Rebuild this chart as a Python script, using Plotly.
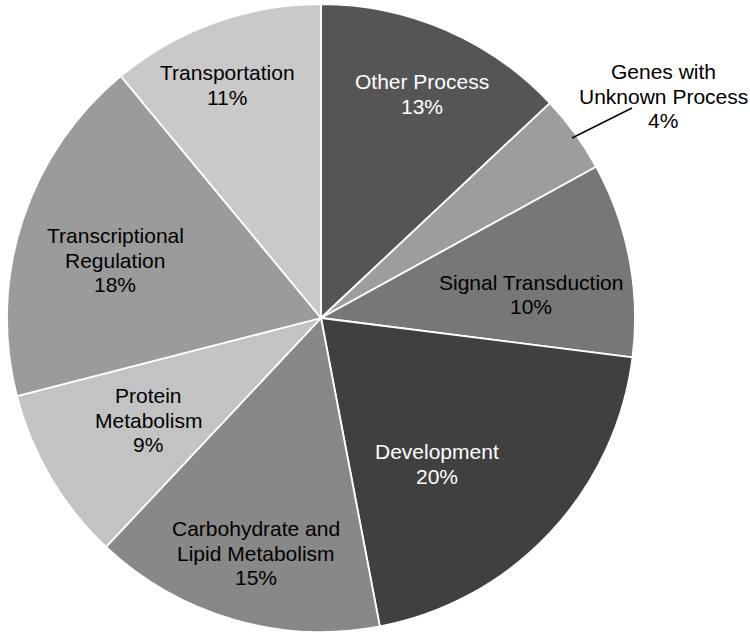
import plotly.graph_objects as go

categories = ["Other Process", "Genes with<br>Unknown Process", "Signal Transduction",
              "Development", "Carbohydrate and<br>Lipid Metabolism", "Protein<br>Metabolism",
              "Transcriptional<br>Regulation", "Transportation"]
values = [13, 4, 10, 20, 15, 9, 18, 11]
colors = ["#555555", "#9d9d9d", "#777777", "#404040", "#888888", "#c3c3c3", "#9b9b9b", "#c9c9c9"]
text_colors = ["white", "black", "black", "white", "black", "black", "black", "black"]

# label block centre positions in pixels (layout, not data)
label_px = [(422, 94), (663, 96), (531, 294.5), (437, 464), (256, 553), (148, 420), (115, 260), (227, 85)]
LINE_H = 24.5

W, H = 750, 642
L, R, T, B = 7, 115, 3, 9
pw, ph = W - L - R, H - T - B

def px2paper(x, y):
    return (x - L) / pw, 1 - (y - T) / ph

fig = go.Figure(go.Pie(
    labels=categories, values=values, sort=False, direction="clockwise", rotation=0,
    marker=dict(colors=colors, line=dict(color="white", width=1.8)),
    textinfo="none", hoverinfo="label+percent", showlegend=False,
))

annotations = []
for lab, v, c, (x, y) in zip(categories, values, text_colors, label_px):
    lines = lab.split("<br>") + [f"{v}%"]
    n = len(lines)
    for i, ln in enumerate(lines):
        ly = y + (i - (n - 1) / 2) * LINE_H
        ax, ay = px2paper(x, ly)
        annotations.append(dict(x=ax, y=ay, xref="paper", yref="paper", showarrow=False,
                                text=ln, font=dict(family="Liberation Sans, Arial", size=21, color=c),
                                xanchor="center", yanchor="middle", align="center"))

x0, y0 = px2paper(572, 138)
x1, y1 = px2paper(632, 108)

fig.update_layout(
    width=W, height=H, margin=dict(l=L, r=R, t=T, b=B),
    paper_bgcolor="white", plot_bgcolor="white",
    annotations=annotations,
    shapes=[dict(type="line", xref="paper", yref="paper", x0=x0, y0=y0, x1=x1, y1=y1,
                 line=dict(color="black", width=1.5))],
)

fig.write_html("out.html", config={"displayModeBar": False},
               post_script="document.body.style.margin='0';document.body.style.padding='0';")
